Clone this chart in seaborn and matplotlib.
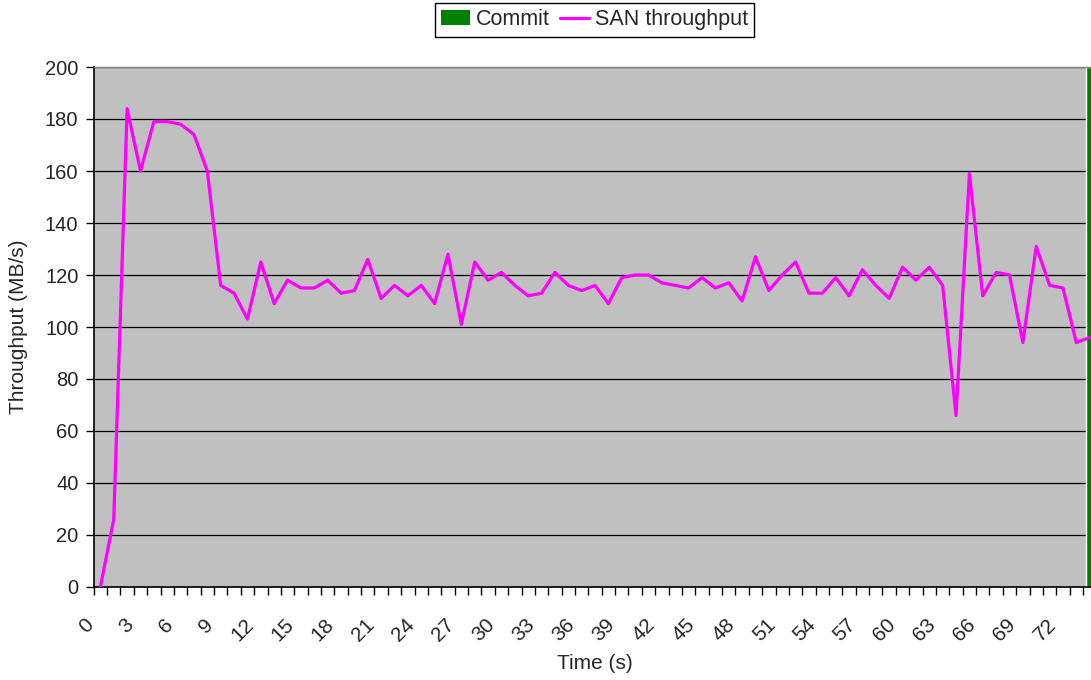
import numpy as np
import pandas as pd
import matplotlib
matplotlib.use('Agg')
import matplotlib.pyplot as plt
import matplotlib.transforms as mtransforms
import seaborn as sns
from matplotlib.patches import Patch
from matplotlib.lines import Line2D

# data (one value per second)
time_s = np.arange(75)
san_throughput = [0, 26, 184, 160, 179, 179, 178, 174, 160, 116,
                  113, 103, 125, 109, 118, 115, 115, 118, 113, 114,
                  126, 111, 116, 112, 116, 109, 128, 101, 125, 118,
                  121, 116, 112, 113, 121, 116, 114, 116, 109, 119,
                  120, 120, 117, 116, 115, 119, 115, 117, 110, 127,
                  114, 120, 125, 113, 113, 119, 112, 122, 116, 111,
                  123, 118, 123, 116, 66, 159, 112, 121, 120, 94,
                  131, 116, 115, 94, 96]
commit_time = [74]
commit_value = [200]
tick_labels = [str(t) for t in range(0, 73, 3)]

df = pd.DataFrame({'Time': time_s, 'Throughput': san_throughput})

sns.set_style('ticks')
plt.rcParams['font.family'] = ['Liberation Sans', 'DejaVu Sans']

fig = plt.figure(figsize=(10.91, 6.80), dpi=100)
# plot area runs past the right edge of the picture, like the cropped original
ax = fig.add_axes([93.7 / 1091, 93 / 680, 1002.7 / 1091, 520 / 680])
ax.set_facecolor('#C0C0C0')

ax.bar(commit_time, commit_value, width=0.6, color='#008000', zorder=2)
sns.lineplot(data=df, x='Time', y='Throughput', color='#FF00FF', linewidth=2.3, ax=ax, zorder=3)

ax.set_xlim(-0.5, 74.5)
ax.set_ylim(0, 200)
ax.set_yticks(range(0, 201, 20))
ax.yaxis.grid(True, color='black', linewidth=0.9)
ax.set_axisbelow(True)

# tick marks between categories, labels every third category
ax.set_xticks(np.arange(-0.5, 75, 1))
ax.set_xticklabels([])
ax.set_xticks(range(0, 73, 3), minor=True)
ax.set_xticklabels(tick_labels, minor=True, rotation=45, ha='right', va='center',
                   rotation_mode='anchor', fontsize=15)
ax.tick_params(axis='x', which='major', length=6, width=1, color='black', direction='out')
ax.tick_params(axis='x', which='minor', length=0, pad=25)
ax.tick_params(axis='y', length=6, width=1, color='black', pad=5, labelsize=14.5)

# nudge the slanted labels left, as in the original
shift = mtransforms.ScaledTranslation(-10 / 100, 0, fig.dpi_scale_trans)
for lab in ax.get_xticklabels(minor=True):
    lab.set_transform(lab.get_transform() + shift)

for side in ['left', 'bottom']:
    ax.spines[side].set_color('black')
    ax.spines[side].set_linewidth(1.2)
for side in ['top', 'right']:
    ax.spines[side].set_color('#808080')
    ax.spines[side].set_linewidth(1)

ax.set_xlabel('Time (s)', fontsize=15)
ax.set_ylabel('Throughput (MB/s)', fontsize=15)
ax.xaxis.set_label_coords(0.5, -0.129)
ax.yaxis.set_label_coords(-0.0655, 0.5)

handles = [Patch(facecolor='#008000', edgecolor='none'),
           Line2D([0], [0], color='#FF00FF', linewidth=2.3)]
leg = fig.legend(handles, ['Commit', 'SAN throughput'], loc='upper center',
                 bbox_to_anchor=(594.5 / 1091, 1 - 3 / 680), ncol=2, fontsize=15.5,
                 frameon=True, fancybox=False, shadow=False, handlelength=1.35,
                 handletextpad=0.25, columnspacing=0.5, borderpad=0.3, borderaxespad=0)
leg.get_frame().set_edgecolor('black')
leg.get_frame().set_linewidth(1)
leg.get_frame().set_alpha(1)

fig.savefig('out.png', dpi=100)
